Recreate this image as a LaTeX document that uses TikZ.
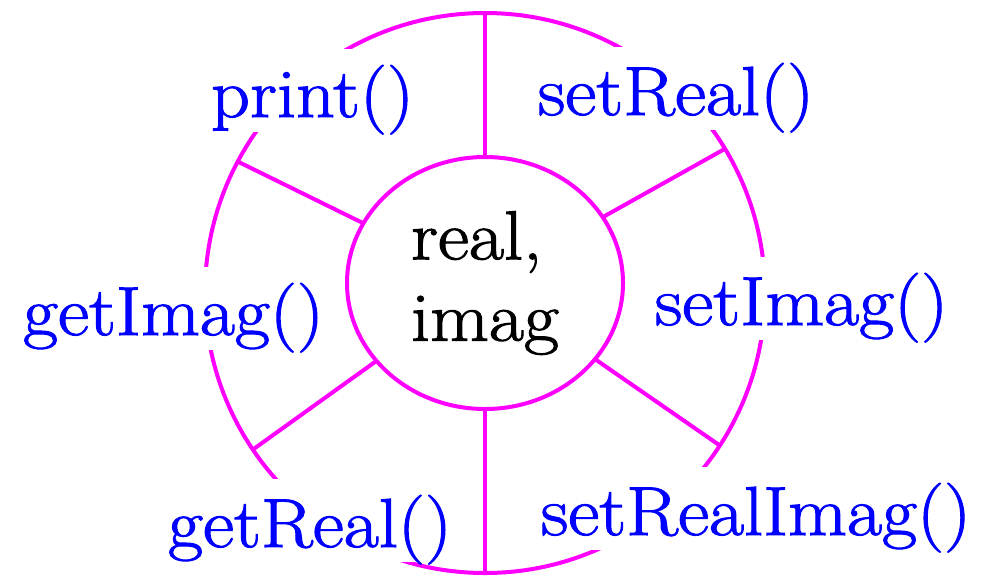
\documentclass[tikz,border=0pt]{standalone}
\usepackage{fontspec}
\setmainfont{Latin Modern Roman}[FakeStretch=1.1, FakeBold=1.5]
\usetikzlibrary{shapes.geometric}
\definecolor{ringcol}{RGB}{255,0,255}
\definecolor{labcol}{RGB}{0,0,255}
\tikzset{
  ring/.style={draw=ringcol, line width=3pt},
  big/.style={font=\fontsize{52}{61}\selectfont},
  method/.style={big, text=labcol, fill=white, anchor=base, inner ysep=0pt, inner xsep=3pt,
    text height=51pt, text depth=11pt},
}
\begin{document}
\begin{tikzpicture}[x=0.75pt, y=-0.75pt]
\useasboundingbox (0,0) rectangle (991,579);
\node[ring, circle, minimum size=420pt, inner sep=0pt, outer sep=0pt] (outer) at (485,293) {};
\node[ring, big, ellipse, minimum width=207pt, minimum height=189pt, inner sep=0pt, outer sep=0pt,
  align=left] (c) at (485,283) {real,\\imag};
\draw[ring] (c) -- (outer.90);
\draw[ring] (c) -- (outer.270);
\draw[ring] (c) -- (outer.31);
\draw[ring] (c) -- (outer.152);
\draw[ring] (c) -- (outer.214);
\draw[ring] (c) -- (outer.-33);
\node[method] (print) at (312.5,117) {print()};
\node[method] (setreal) at (676,115) {setReal()};
\node[method] (getimag) at (173.5,335) {getImag()};
\node[method] (setimag) at (801.5,325) {setImag()};
\node[method] (getreal) at (310,547) {getReal()};
\node[method] (setrealimag) at (756,535) {setRealImag()};
\end{tikzpicture}
\end{document}
